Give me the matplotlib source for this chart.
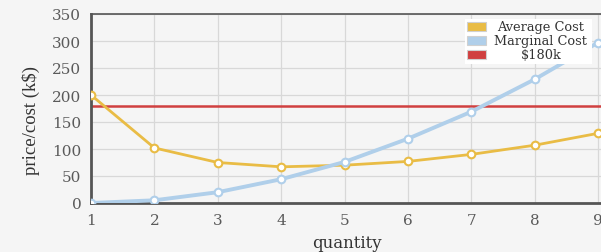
import matplotlib
matplotlib.use("Agg")
from matplotlib import pyplot as plt
from matplotlib.patches import Rectangle

quantity = [1, 2, 3, 4, 5, 6, 7, 8, 9]
average_cost = [200, 102, 75, 67, 70, 77, 90, 107, 129]
marginal_cost = [0, 5, 20, 44, 76, 119, 169, 229, 297]
price = 180
labels = ["Average Cost", "Marginal Cost", "$180k"]

bg = "#f5f5f5"
gold = "#e9bc45"
blue = "#b0cfea"
red = "#d04040"
colors = [gold, blue, red]

fig = plt.figure(figsize=(6.01, 2.53), dpi=100, facecolor=bg)
ax = fig.add_axes([91/601, 49/253, 510/601, 189/253], facecolor=bg)

ax.axhline(price, color=red, lw=1.8, zorder=2)
ax.plot(quantity, average_cost, color=gold, lw=2, marker="o", ms=5.5,
        mfc="white", mec=gold, mew=1.5, zorder=3)
ax.plot(quantity, marginal_cost, color=blue, lw=2.8, marker="o", ms=5.5,
        mfc="white", mec=blue, mew=1.5, zorder=4)

ax.set_xlim(1, 9 + 3/63.4)
ax.set_ylim(0, 350)
ax.set_xticks(quantity)
ax.set_yticks(range(0, 351, 50))
ax.grid(color="#d8d8d8", lw=0.9)
ax.set_axisbelow(True)

for s in ["left", "bottom"]:
    ax.spines[s].set_color("#555555")
    ax.spines[s].set_linewidth(2)
ax.spines["top"].set_color("#555555")
ax.spines["top"].set_linewidth(1.2)
ax.spines["right"].set_visible(False)

ax.tick_params(length=0, pad=7, labelsize=11, labelcolor="#5a5a5a")
for lbl in ax.get_xticklabels() + ax.get_yticklabels():
    lbl.set_family("DejaVu Serif")

ax.set_xlabel("quantity", family="DejaVu Serif", fontsize=12, color="#333333")
ax.xaxis.set_label_coords(0.502, -0.165)
ax.set_ylabel("price/cost (k$)", family="Liberation Serif", fontsize=13.5, color="#333333")
ax.yaxis.set_label_coords(-0.1, 0.44)

# legend box with centred labels
ax.add_patch(Rectangle((0.733, 0.735), 0.249, 0.239, transform=ax.transAxes,
                       facecolor="white", edgecolor="none", zorder=5))
rows = [0.936, 0.862, 0.788]
for lab, col, yy in zip(labels, colors, rows):
    ax.add_patch(Rectangle((0.737, yy - 0.024), 0.038, 0.048, transform=ax.transAxes,
                           facecolor=col, edgecolor="#d0d0d0", lw=0.8, zorder=6))
    ax.text(0.882, yy, lab, transform=ax.transAxes, ha="center", va="center",
            family="DejaVu Serif", fontsize=9.3, color="#333333", zorder=6)

fig.savefig("out.png", dpi=100, facecolor=bg)
